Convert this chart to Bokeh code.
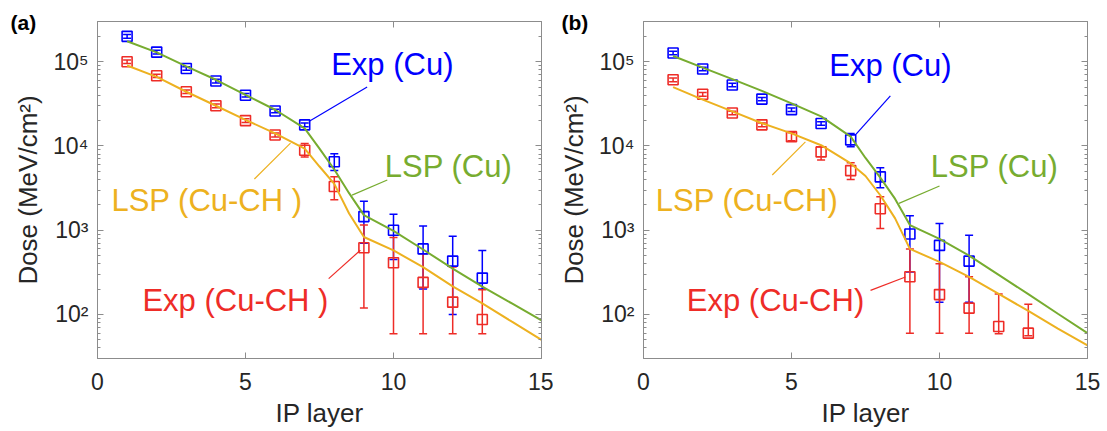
from bokeh.plotting import figure
from bokeh.layouts import row
from bokeh.models import (Range1d, LogAxis, LinearAxis, FixedTicker, Whisker,
                          TeeHead, ColumnDataSource, Label)
from bokeh.embed import file_html
from bokeh.resources import INLINE

# ---------------------------------------------------------------- data
# (a) Cu stack vs Cu-CH stack, image-plate layers 1..13
layers_a = [1, 2, 3, 4, 5, 6, 7, 8, 9, 10, 11, 12, 13]
exp_cu_a = [2.0e5, 1.3e5, 8.3e4, 5.9e4, 4.0e4, 2.6e4, 1.78e4, 6.5e3, 1.45e3, 1.0e3, 6.0e2, 4.3e2, 2.7e2]
exp_cu_a_lo = [1.9e5, 1.23e5, 7.9e4, 5.6e4, 3.8e4, 2.47e4, 1.69e4, 5.1e3, 7.0e2, 4.5e2, 2.0e2, 1.0e2, 2.0e2]
exp_cu_a_hi = [2.1e5, 1.37e5, 8.7e4, 6.2e4, 4.2e4, 2.73e4, 1.87e4, 8.1e3, 2.2e3, 1.55e3, 1.12e3, 8.5e2, 5.75e2]

exp_cuch_a = [1.0e5, 6.8e4, 4.4e4, 3.0e4, 2.0e4, 1.35e4, 8.9e3, 3.3e3, 6.2e2, 4.1e2, 2.4e2, 1.4e2, 87]
exp_cuch_a_lo = [9.5e4, 6.5e4, 4.2e4, 2.85e4, 1.9e4, 1.28e4, 7.4e3, 2.3e3, 1.19e2, 59, 59, 59, 59]
exp_cuch_a_hi = [1.05e5, 7.1e4, 4.6e4, 3.15e4, 2.1e4, 1.42e4, 1.07e4, 4.3e3, 1.15e3, 8.2e2, 5.25e2, 3.66e2, 1.97e2]

lsp_layers = [1, 2, 3, 4, 5, 6, 7, 7.5, 8, 8.5, 9, 10, 11, 12, 13, 14, 15]
lsp_cu_a = [1.75e5, 1.29e5, 8.8e4, 6.1e4, 4.05e4, 2.69e4, 1.62e4, 9.3e3, 5.25e3, 2.75e3,
            1.51e3, 980, 590, 350, 214, 135, 85]
lsp_cuch_a = [9.0e4, 6.6e4, 4.4e4, 3.0e4, 2.04e4, 1.41e4, 9.3e3, 5.7e3, 3.55e3, 1.58e3,
              830, 575, 365, 215, 135, 82, 50]

# (b) second shot
layers_b_cu = [1, 2, 3, 4, 5, 6, 7, 8, 9, 10, 11]
exp_cu_b = [1.27e5, 8.2e4, 5.3e4, 3.6e4, 2.7e4, 1.85e4, 1.18e4, 4.3e3, 9.0e2, 6.6e2, 4.3e2]
exp_cu_b_lo = [1.21e5, 7.8e4, 5.05e4, 3.43e4, 2.57e4, 1.76e4, 9.8e3, 3.2e3, 3.2e2, 1.4e2, 1.4e2]
exp_cu_b_hi = [1.33e5, 8.6e4, 5.55e4, 3.77e4, 2.83e4, 1.94e4, 1.41e4, 5.5e3, 1.48e3, 1.2e3, 8.7e2]

layers_b_cuch = [1, 2, 3, 4, 5, 6, 7, 8, 9, 10, 11, 12, 13]
exp_cuch_b = [6.1e4, 4.1e4, 2.46e4, 1.78e4, 1.29e4, 8.5e3, 5.1e3, 1.8e3, 2.8e2, 1.72e2, 1.19e2, 72, 60]
exp_cuch_b_lo = [5.8e4, 3.9e4, 2.34e4, 1.69e4, 1.15e4, 6.8e3, 4.0e3, 1.05e3, 60, 60, 60, 59, 56]
exp_cuch_b_hi = [6.4e4, 4.3e4, 2.58e4, 1.87e4, 1.43e4, 9.8e3, 6.3e3, 2.5e3, 6.0e2, 4.0e2, 2.8e2, 1.75e2, 1.32e2]

lsp_cu_b = [1.17e5, 8.5e4, 6.2e4, 4.5e4, 3.2e4, 2.24e4, 1.29e4, 7.2e3, 4.2e3, 2.35e3,
            1.15e3, 790, 500, 295, 174, 102, 60]
lsp_cuch_b = [5.0e4, 3.55e4, 2.57e4, 1.86e4, 1.41e4, 1.02e4, 6.2e3, 4.4e3, 2.6e3, 1.38e3,
              600, 420, 280, 176, 110, 68, 43]

x_ticks = [0, 5, 10, 15]
y_ticks = [100, 1000, 10000, 100000]
y_tick_labels = ["10²", "10³", "10⁴", "10⁵"]

# ---------------------------------------------------------------- style
FONT = "Liberation Sans"
BLUE = "#0000ff"
RED = "#ee2c27"
GREEN = "#77ac30"
ORANGE = "#edb120"
AXIS = "#8c8c8c"
INK = "#262626"

minor_y = [m * 10 ** e for e in range(1, 6) for m in range(2, 10) if 30 < m * 10 ** e < 3e5]


def style_axis(ax, labels=True):
    ax.axis_line_color = AXIS
    ax.major_tick_line_color = AXIS
    ax.minor_tick_line_color = AXIS
    ax.major_tick_in = 6
    ax.major_tick_out = 0
    ax.minor_tick_in = 3
    ax.minor_tick_out = 0
    ax.major_label_text_font = FONT
    if labels:
        ax.major_label_text_color = INK
        ax.major_label_text_font_size = "23px"
    else:
        # box edge: ticks only, labels take no room and are not painted
        ax.major_label_text_color = None
        ax.major_label_text_font_size = "2px"
        ax.major_label_standoff = 0


def errorbars(p, x, y, lo, hi, color):
    src = ColumnDataSource(dict(x=x, y=y, lo=lo, hi=hi))
    w = Whisker(source=src, base="x", lower="lo", upper="hi", dimension="height",
                line_color=color, line_width=1.5,
                lower_head=TeeHead(size=8, line_color=color, line_width=1.5),
                upper_head=TeeHead(size=8, line_color=color, line_width=1.5))
    p.add_layout(w)
    p.scatter("x", "y", source=src, marker="square", size=10, fill_color=None,
              line_color=color, line_width=1.6)


def callout(p, text, color, text_xy, line_xy):
    (x0, y0), (x1, y1) = line_xy
    p.line([x0, x1], [y0, y1], line_color=color, line_width=1.2)
    p.add_layout(Label(x=text_xy[0], y=text_xy[1], text=text, text_color=color,
                       text_font=FONT, text_font_size="31px", text_align="center",
                       text_baseline="middle"))


def panel(tag, tag_offset, series, lines, notes, border_left, border_right):
    p = figure(x_range=Range1d(0, 15), y_range=Range1d(30, 3e5), y_axis_type="log",
               frame_width=444, frame_height=337,
               min_border_left=border_left, min_border_right=border_right,
               min_border_top=21, min_border_bottom=73,
               output_backend="svg", toolbar_location=None, title=tag,
               x_axis_label="IP layer", y_axis_label="Dose (MeV/cm²)")
    p.grid.visible = False
    p.outline_line_color = AXIS
    p.background_fill_color = "white"
    p.border_fill_color = "white"

    # panel tag: title pulled into the top-left corner without taking layout room
    p.title.text_font = FONT
    p.title.text_font_style = "bold"
    p.title.text_font_size = "21px"
    p.title.text_color = "#000000"
    p.title.align = "left"
    p.title.vertical_align = "bottom"
    p.title.offset = tag_offset
    p.title.standoff = -25

    p.xaxis.ticker = FixedTicker(ticks=x_ticks)
    p.yaxis.ticker = FixedTicker(ticks=y_ticks, minor_ticks=minor_y)
    p.yaxis.major_label_overrides = dict(zip(y_ticks, y_tick_labels))
    for ax in (p.xaxis[0], p.yaxis[0]):
        style_axis(ax)
        ax.axis_label_text_font = FONT
        ax.axis_label_text_font_style = "normal"
        ax.axis_label_text_color = INK
        ax.axis_label_text_font_size = "26px"
    p.xaxis.major_label_standoff = 14
    p.xaxis.axis_label_standoff = 5
    p.yaxis.major_label_standoff = 9
    p.yaxis.axis_label_standoff = 7

    right = LogAxis(ticker=FixedTicker(ticks=y_ticks, minor_ticks=minor_y))
    top = LinearAxis(ticker=FixedTicker(ticks=x_ticks))
    style_axis(right, labels=False)
    style_axis(top, labels=False)
    p.add_layout(right, "right")
    p.add_layout(top, "above")

    for x, y, lo, hi, color in series:
        errorbars(p, x, y, lo, hi, color)
    for y, color in lines:
        p.line(lsp_layers, y, line_color=color, line_width=2)
    for text, color, txy, lxy in notes:
        callout(p, text, color, txy, lxy)
    return p


pa = panel("(a)", -87,
           [(layers_a, exp_cu_a, exp_cu_a_lo, exp_cu_a_hi, BLUE),
            (layers_a, exp_cuch_a, exp_cuch_a_lo, exp_cuch_a_hi, RED)],
           [(lsp_cu_a, GREEN), (lsp_cuch_a, ORANGE)],
           [("Exp (Cu)", BLUE, (9.96, 9.2e4), ((9.11, 5.0e4), (7.14, 1.95e4))),
            ("LSP (Cu)", GREEN, (11.86, 5.68e3), ((9.79, 3.94e3), (8.60, 2.61e3))),
            ("LSP (Cu-CH )", ORANGE, (3.70, 2.28e3), ((5.30, 4.05e3), (6.52, 1.08e4))),
            ("Exp (Cu-CH )", RED, (4.66, 147), ((7.81, 266), (8.88, 578)))],
           97, 12)

pb = panel("(b)", -82,
           [(layers_b_cu, exp_cu_b, exp_cu_b_lo, exp_cu_b_hi, BLUE),
            (layers_b_cuch, exp_cuch_b, exp_cuch_b_lo, exp_cuch_b_hi, RED)],
           [(lsp_cu_b, GREEN), (lsp_cuch_b, ORANGE)],
           [("Exp (Cu)", BLUE, (8.34, 8.95e4), ((8.34, 3.94e4), (7.16, 1.35e4))),
            ("LSP (Cu)", GREEN, (11.86, 5.68e3), ((10.0, 3.34e3), (8.63, 2.08e3))),
            ("LSP (Cu-CH)", ORANGE, (3.50, 2.28e3), ((4.35, 4.52e3), (5.47, 1.12e4))),
            ("Exp (Cu-CH)", RED, (4.46, 147), ((7.67, 193), (8.85, 278)))],
           90, 20)

layout = row(pa, pb)
open("out.html", "w").write(file_html(layout, INLINE))
